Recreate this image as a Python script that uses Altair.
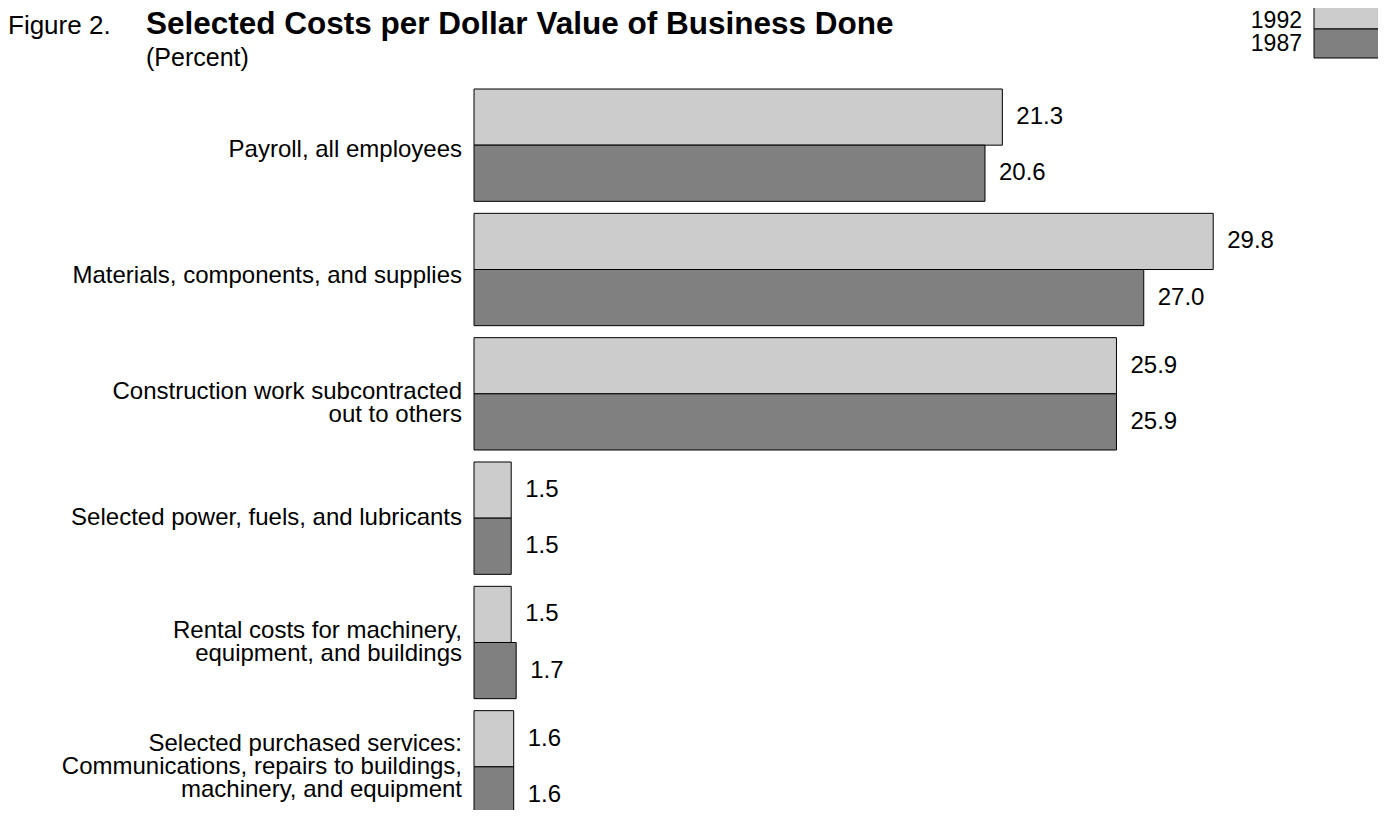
import altair as alt
import pandas as pd

categories = [
    "Payroll, all employees",
    "Materials, components, and supplies",
    "Construction work subcontracted|out to others",
    "Selected power, fuels, and lubricants",
    "Rental costs for machinery,|equipment, and buildings",
    "Selected purchased services:|Communications, repairs to buildings,|machinery, and equipment",
]
years = ["1992", "1987"]
values_1992 = [21.3, 29.8, 25.9, 1.5, 1.5, 1.6]
values_1987 = [20.6, 27.0, 25.9, 1.5, 1.7, 1.6]
year_colors = ["#cccccc", "#808080"]

fig_label = "Figure 2."
title_text = "Selected Costs per Dollar Value of Business Done"
subtitle_text = "(Percent)"

# layout only: vertical nudge (px) of each category label block
label_nudge = [5, 6, 9.5, 0, 0, 0]
LINE_H = 23

rows = []
for c, a, b in zip(categories, values_1992, values_1987):
    rows.append({"category": c, "year": "1992", "value": a})
    rows.append({"category": c, "year": "1987", "value": b})
df = pd.DataFrame(rows)

label_rows = []
for c, nudge in zip(categories, label_nudge):
    lines = c.split("|")
    n = len(lines)
    for i, ln in enumerate(lines):
        label_rows.append({"category": c, "line": ln, "dy": (i - (n - 1) / 2) * LINE_H + nudge})
ldf = pd.DataFrame(label_rows)

FONT = "Liberation Sans"

x_enc = alt.X("value:Q", scale=alt.Scale(domain=[0, 36], nice=False, zero=True), axis=None)
y_scale = alt.Scale(domain=categories, range=[0, 734], paddingInner=0.0965, paddingOuter=0)
y_enc = alt.Y("category:N", sort=categories, scale=y_scale, axis=None)
yoff_enc = alt.YOffset("year:N", sort=years, scale=alt.Scale(paddingInner=0, paddingOuter=0))

bars = alt.Chart(df).mark_bar(stroke="black", strokeWidth=1, clip=False).encode(
    x=x_enc,
    y=y_enc,
    yOffset=yoff_enc,
    color=alt.Color("year:N", scale=alt.Scale(domain=years, range=year_colors), legend=None),
)

values = alt.Chart(df).mark_text(
    align="left", baseline="middle", dx=14, fontSize=24, font=FONT, color="black"
).encode(
    x=x_enc,
    y=y_enc,
    yOffset=yoff_enc,
    text=alt.Text("value:Q", format=".1f"),
)

cat_layers = []
for dy_val in sorted(ldf["dy"].unique()):
    sub = ldf[ldf["dy"] == dy_val]
    cat_layers.append(
        alt.Chart(sub).mark_text(
            align="right", baseline="middle", dx=-12, dy=float(dy_val),
            fontSize=24, font=FONT, color="black"
        ).encode(x=alt.value(0), y=y_enc, text="line:N")
    )

def txt(s, x, y, size, weight="normal", align="left", baseline="alphabetic"):
    d = pd.DataFrame({"t": [s]})
    return alt.Chart(d).mark_text(
        align=align, baseline=baseline, fontSize=size, fontWeight=weight, font=FONT, color="black"
    ).encode(x=alt.value(x), y=alt.value(y), text="t:N")

def box(color, y, y2):
    d = pd.DataFrame({"c": [color]})
    return alt.Chart(d).mark_rect(fill=color, stroke="black", strokeWidth=1).encode(
        x=alt.value(840), x2=alt.value(912), y=alt.value(y), y2=alt.value(y2)
    )

fig = txt(fig_label, -466, -55, 26)
title = txt(title_text, -328, -55, 31.5, weight="bold")
subtitle = txt(subtitle_text, -328, -23, 25)
leg1 = txt(years[0], 828, -68, 23, align="right", baseline="middle")
leg2 = txt(years[1], 828, -45, 23, align="right", baseline="middle")
box1 = box(year_colors[0], -92, -60)
box2 = box(year_colors[1], -60, -31)

chart = alt.layer(bars, values, *cat_layers, fig, title, subtitle, leg1, leg2, box1, box2).properties(
    width=893,
    height=721,
    autosize=alt.AutoSizeParams(type="none"),
    padding={"left": 466, "top": 81, "right": 11, "bottom": 0},
    background="white",
).configure_view(stroke=None)

chart.save("out.html", embed_options={"renderer": "svg", "actions": False})
